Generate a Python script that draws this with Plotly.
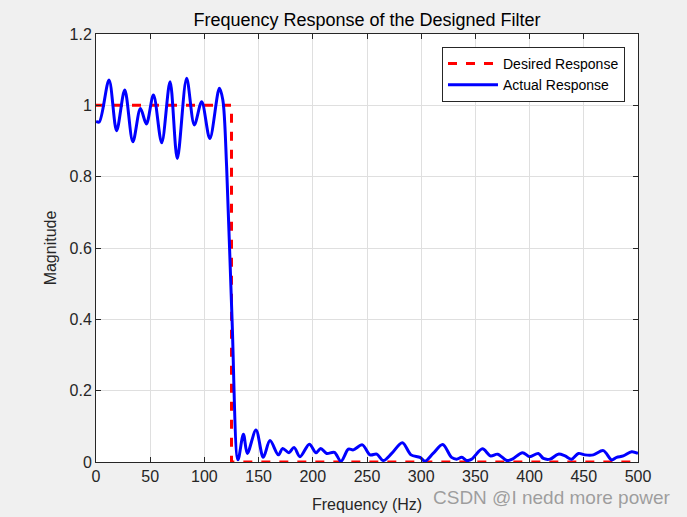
import plotly.graph_objects as go

# desired (ideal) low-pass response
desired_f = [0, 125, 125, 500]
desired_m = [1, 1, 0, 0]

# actual response
actual_f = [0, 3, 12, 19, 26.5, 34, 41, 46.5, 53, 60.6, 68.3, 75, 83.6, 90.7,
            97.5, 105, 113.8, 117, 120.5, 125.5, 131, 136, 139.6, 147.6, 154.3,
            160.5, 168.2, 172.2, 178, 182.7, 188.2, 196.8, 203, 207.3, 212.8,
            219.9, 226, 232.8, 237.4, 245.7, 252.8, 259, 265, 272.8, 282.6,
            290.6, 298.9, 303.5, 311, 319.8, 328, 332.7, 337.4, 342, 346.6,
            356.5, 364, 370.5, 379, 384, 393.5, 400, 408, 412.7, 418.8, 426.5,
            432.7, 438.8, 445, 451, 458.8, 468, 475.7, 480.3, 486.4, 494.2, 500]
actual_m = [0.955, 0.953, 1.071, 0.929, 1.043, 0.898, 0.991, 0.948, 1.029,
            0.895, 1.066, 0.851, 1.076, 0.945, 1.010, 0.907, 1.048, 1.015,
            0.828, 0.400, 0.006, 0.078, 0.024, 0.090, 0.013, 0.060, 0.020,
            0.038, 0.026, 0.041, 0.015, 0.050, 0.026, 0.038, 0.024, 0.027,
            0.002, 0.036, 0.034, 0.048, 0.020, 0.022, 0.004, 0.024, 0.054,
            0.020, 0.013, 0.002, 0.024, 0.049, 0.013, 0.008, 0.013, 0.004,
            0.008, 0.037, 0.017, 0.022, 0.004, 0.008, 0.026, 0.015, 0.024,
            0.010, 0.008, 0.022, 0.017, 0.008, 0.024, 0.020, 0.020, 0.032,
            0.006, 0.013, 0.017, 0.029, 0.024]

x_ticks = list(range(0, 501, 50))
y_ticks = [0, 0.2, 0.4, 0.6, 0.8, 1.0, 1.2]
y_tick_labels = ["0", "0.2", "0.4", "0.6", "0.8", "1", "1.2"]

font_family = "Liberation Sans, Arial, Helvetica, sans-serif"

fig = go.Figure()

fig.add_trace(
    go.Scatter(
        x=desired_f,
        y=desired_m,
        mode="lines",
        name="Desired Response",
        line=dict(color="#ff0000", width=3, dash="dash"),
    )
)

fig.add_trace(
    go.Scatter(
        x=actual_f,
        y=actual_m,
        mode="lines",
        name="Actual Response",
        line=dict(color="#0000ff", width=3, shape="spline", smoothing=0.9),
    )
)

axis_common = dict(
    showgrid=True,
    gridcolor="#dfdfdf",
    gridwidth=1,
    showline=True,
    linecolor="#262626",
    linewidth=1,
    mirror="ticks",
    ticks="inside",
    ticklen=5,
    tickcolor="#262626",
    zeroline=False,
    automargin=False,
    tickfont=dict(size=16, color="#262626", family=font_family),
)

fig.update_xaxes(
    range=[0, 500],
    tickvals=x_ticks,
    title=dict(text="Frequency (Hz)", font=dict(size=16, color="#262626"), standoff=14),
    **axis_common,
)
fig.update_yaxes(
    range=[0, 1.2],
    tickvals=y_ticks,
    ticktext=y_tick_labels,
    title=dict(text="Magnitude", font=dict(size=16, color="#262626"), standoff=8),
    **axis_common,
)

fig.update_layout(
    width=687,
    height=517,
    margin=dict(l=96, r=49, t=34, b=55),
    paper_bgcolor="#f0f0f0",
    plot_bgcolor="#ffffff",
    font=dict(family=font_family, color="#262626"),
    title=dict(
        text="Frequency Response of the Designed Filter",
        x=(96 + 638) / 2 / 687,
        xanchor="center",
        y=1 - 20 / 517,
        yanchor="middle",
        font=dict(size=18, color="#000000"),
    ),
    legend=dict(
        x=0.976,
        y=0.97,
        xanchor="right",
        yanchor="top",
        bgcolor="#ffffff",
        bordercolor="#262626",
        borderwidth=1,
        font=dict(size=14, color="#000000"),
        tracegroupgap=0,
        itemwidth=50,
    ),
    showlegend=True,
)

fig.add_annotation(
    text="CSDN @I nedd more power",
    x=1.063,
    y=-0.084,
    xref="paper",
    yref="paper",
    xanchor="right",
    yanchor="middle",
    showarrow=False,
    font=dict(size=19, color="rgba(130,130,130,0.75)"),
)

# page without the default body margin so the figure sits at (0, 0)
fig.write_html(
    "out.html",
    config={"displayModeBar": False},
    post_script="document.body.style.margin='0';document.body.style.background='#f0f0f0';",
)
